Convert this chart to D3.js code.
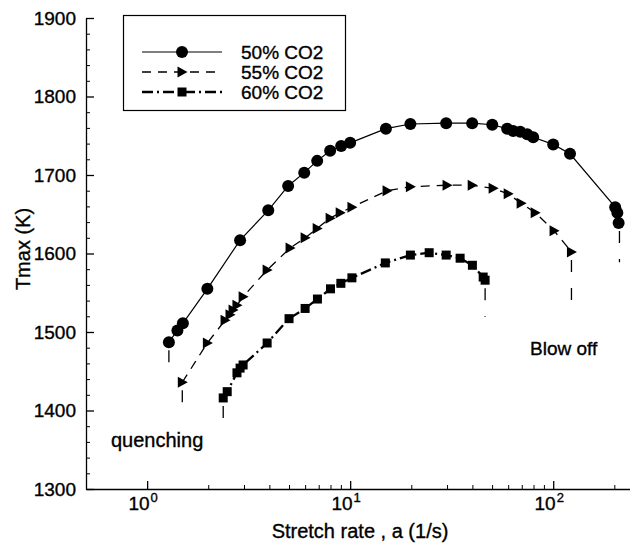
<!DOCTYPE html>
<html>
<head>
<meta charset="utf-8">
<script src="https://cdn.jsdelivr.net/npm/d3@7"></script>
<style>
  body { margin: 0; background: #fff; }
  text { font-family: "Liberation Sans", Arial, Helvetica, sans-serif; fill: #000; stroke: #000; stroke-width: 0.35px; }
</style>
</head>
<body>
<div id="chart"></div>
<script>
// stretch rate (1/s) and Tmax (K)
var stretch50 = [1.28, 1.41, 1.50, 1.98, 2.87, 3.95, 4.95, 5.94, 6.88, 7.97, 9.03, 10.0, 15.0, 19.8, 29.7, 39.9, 50.1, 59.3, 63.5, 68.8, 74.5, 79.7, 100, 121, 202, 207, 210];
var tmax50    = [1487, 1502, 1511, 1555, 1617, 1655, 1686, 1703, 1718, 1731, 1737, 1741, 1759, 1765, 1766, 1766, 1764, 1759, 1756, 1755, 1752, 1748, 1739, 1727, 1659, 1652, 1639];

var stretch55 = [1.49, 1.98, 2.42, 2.56, 2.65, 2.77, 2.97, 3.90, 5.06, 6.0, 6.88, 7.97, 8.93, 10.2, 15.2, 19.8, 30.0, 39.9, 50.6, 60.0, 69.5, 81.5, 101, 123];
var tmax55    = [1436, 1486, 1515, 1522, 1528, 1534, 1545, 1579, 1607, 1620, 1632, 1645, 1652, 1659, 1680, 1685, 1687, 1687, 1683, 1676, 1664, 1652, 1629, 1602];

var stretch60 = [2.37, 2.48, 2.77, 2.87, 2.97, 3.90, 5.0, 6.0, 6.9, 8.0, 9.0, 10.2, 14.9, 19.8, 24.5, 29.7, 34.8, 40.0, 45.2, 46.2];
var tmax60    = [1416, 1424, 1448, 1454, 1458, 1486, 1517, 1530, 1542, 1555, 1562, 1569, 1588, 1598, 1601, 1598, 1594, 1585, 1570, 1566];

// vertical dashed drops at quenching (low a) and blow off (high a): [a, T top, T bottom]
var quenchDrops  = [[1.28, 1487, 1441], [1.49, 1436, 1394], [2.37, 1416, 1373]];
var blowoffDrops = [[212, 1639, 1589], [123, 1602, 1538], [46.2, 1566, 1519]];

var seriesNames = ["50% CO2", "55% CO2", "60% CO2"];
var yMajor = [1300, 1400, 1500, 1600, 1700, 1800, 1900];
var xMajor = [1, 10, 100];

var width = 630, height = 546;
var margin = {top: 18, left: 86, bottom: 57};

var x = d3.scaleLog().domain([0.5, 250]).range([margin.left, 634]);
var y = d3.scaleLinear().domain([1300, 1900]).range([height - margin.bottom, margin.top]);

var svg = d3.select("#chart").append("svg")
    .attr("width", width)
    .attr("height", height);

// y axis, ticks pointing inward
var yMinor = d3.range(1300, 1901, 20).filter(function(v) { return v % 100 != 0; });
svg.append("g")
    .attr("transform", "translate(" + margin.left + ",0)")
    .call(d3.axisLeft(y).tickValues(yMinor).tickSize(-4).tickSizeOuter(0).tickFormat(""))
    .call(function(g) { g.select(".domain").remove(); });
var gy = svg.append("g")
    .attr("transform", "translate(" + margin.left + ",0)")
    .call(d3.axisLeft(y).tickValues(yMajor).tickSize(-8).tickSizeOuter(0).tickPadding(10).tickFormat(d3.format("d")));
gy.selectAll("text").style("font-size", "19px").attr("font-family", null);
gy.select(".domain").attr("stroke-width", 1.3);
gy.selectAll(".tick line").attr("stroke-width", 1.3);

// x axis
var xMinor = [];
[1, 10, 100].forEach(function(dec) {
    for (var k = 2; k <= 9; k++) if (dec * k <= 250) xMinor.push(dec * k);
});
var xb = height - margin.bottom;
svg.append("g")
    .attr("transform", "translate(0," + xb + ")")
    .call(d3.axisBottom(x).tickValues(xMinor).tickSize(-4).tickSizeOuter(0).tickFormat(""))
    .call(function(g) { g.select(".domain").remove(); });
var gx = svg.append("g")
    .attr("transform", "translate(0," + xb + ")")
    .call(d3.axisBottom(x).tickValues(xMajor).tickSize(-8).tickSizeOuter(0).tickFormat(""));
gx.select(".domain").attr("stroke-width", 1.3);
gx.selectAll(".tick line").attr("stroke-width", 1.3);

// 10^n labels
var xl = svg.append("g").selectAll("text")
    .data(xMajor)
    .enter().append("text")
    .attr("x", function(d) { return x(d) - 4; })
    .attr("y", xb + 21)
    .attr("text-anchor", "middle")
    .style("font-size", "19px");
xl.append("tspan").text("10");
xl.append("tspan")
    .attr("dy", -8)
    .attr("dx", 1)
    .style("font-size", "13px")
    .text(function(d) { return Math.round(Math.log10(d)); });

// axis titles
svg.append("text")
    .attr("x", 360)
    .attr("y", 538)
    .attr("text-anchor", "middle")
    .style("font-size", "20px")
    .text("Stretch rate , a (1/s)");

svg.append("text")
    .attr("transform", "translate(30,249) rotate(-90)")
    .attr("text-anchor", "middle")
    .style("font-size", "20px")
    .text("Tmax (K)");

// curves
var styles = [
    {dash: null, width: 1.2},
    {dash: "9,7", width: 1.3},
    {dash: "11,4,2,4", width: 2.3}
];
var stretchAll = [stretch50, stretch55, stretch60];
var tmaxAll = [tmax50, tmax55, tmax60];

var line = d3.line()
    .x(function(d) { return x(d[0]); })
    .y(function(d) { return y(d[1]); });

function marker(g, i, cx, cy) {
    if (i == 0) {
        g.append("circle").attr("cx", cx).attr("cy", cy).attr("r", 6).attr("fill", "#000");
    } else if (i == 1) {
        g.append("path")
            .attr("d", "M" + (cx - 4.5) + "," + (cy - 5.5) + "L" + (cx + 5.5) + "," + cy + "L" + (cx - 4.5) + "," + (cy + 5.5) + "Z")
            .attr("fill", "#000");
    } else {
        g.append("rect").attr("x", cx - 4.5).attr("y", cy - 4.5).attr("width", 9).attr("height", 9).attr("fill", "#000");
    }
}

var plot = svg.append("g");
stretchAll.forEach(function(xs, i) {
    var pts = xs.map(function(v, j) { return [v, tmaxAll[i][j]]; });
    plot.append("path")
        .datum(pts)
        .attr("d", line)
        .attr("fill", "none")
        .attr("stroke", "#000")
        .attr("stroke-width", styles[i].width)
        .attr("stroke-dasharray", styles[i].dash);

    [quenchDrops[i], blowoffDrops[i]].forEach(function(dr) {
        plot.append("line")
            .attr("x1", x(dr[0])).attr("x2", x(dr[0]))
            .attr("y1", y(dr[1])).attr("y2", y(dr[2]))
            .attr("stroke", "#000")
            .attr("stroke-width", 1.3)
            .attr("stroke-dasharray", "0,8,12,8");
    });

    pts.forEach(function(p) { marker(plot, i, x(p[0]), y(p[1])); });
});

// annotations
svg.append("text").attr("x", 111).attr("y", 447).style("font-size", "20px").text("quenching");
svg.append("text").attr("x", 530).attr("y", 355).style("font-size", "19px").text("Blow off");

// legend
var lg = svg.append("g");
lg.append("rect")
    .attr("x", 123.5).attr("y", 15.5)
    .attr("width", 222).attr("height", 95)
    .attr("fill", "#fff")
    .attr("stroke", "#000")
    .attr("stroke-width", 1.2);
seriesNames.forEach(function(name, i) {
    var ly = 52 + i * 20;
    lg.append("line")
        .attr("x1", 142).attr("x2", 222)
        .attr("y1", ly).attr("y2", ly)
        .attr("stroke", "#000")
        .attr("stroke-width", styles[i].width)
        .attr("stroke-dasharray", styles[i].dash);
    marker(lg, i, 182, ly);
    lg.append("text")
        .attr("x", 241)
        .attr("y", ly + 7)
        .style("font-size", "19px")
        .text(name);
});
</script>
</body>
</html>
